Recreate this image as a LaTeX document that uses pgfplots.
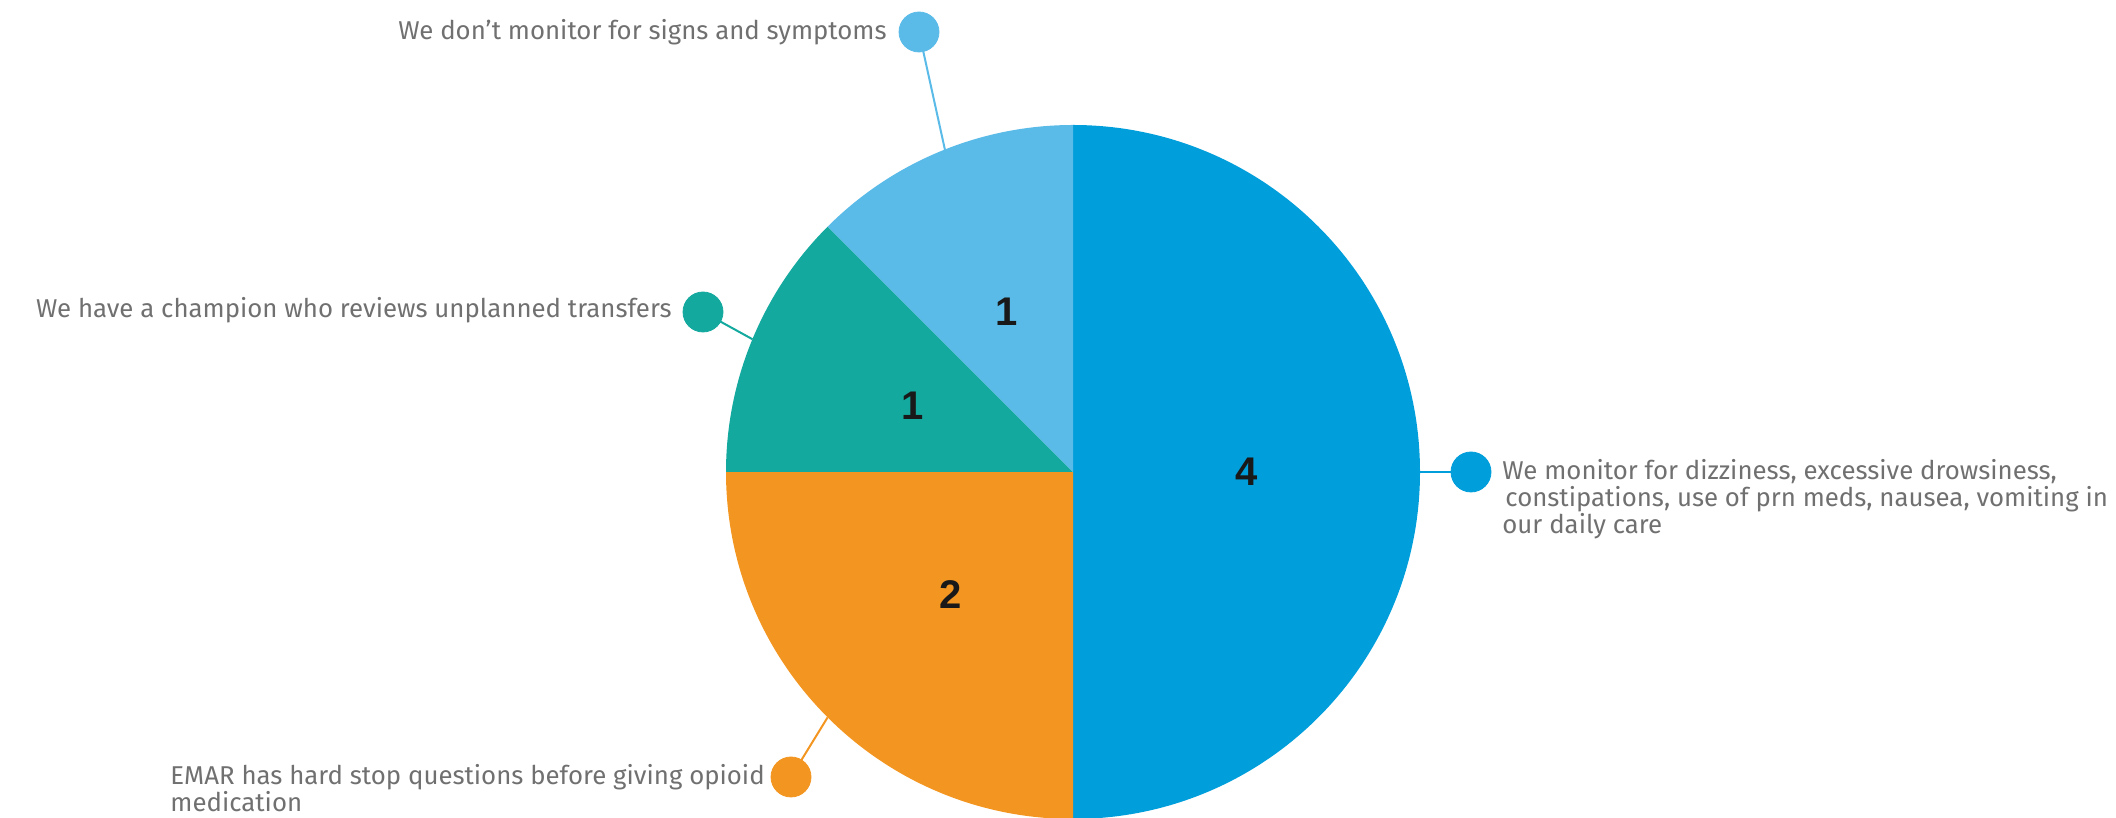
\documentclass[border=0pt]{standalone}
\usepackage{pgfplots}
\pgfplotsset{compat=1.18}
\usepackage{pgfplotstable}
\usepackage{fontspec}
\setmainfont{Fira Sans}
\newfontfamily\numfont{Liberation Sans}

\definecolor{cBlue}{RGB}{0,158,219}
\definecolor{cLight}{RGB}{91,187,232}
\definecolor{cTeal}{RGB}{20,169,158}
\definecolor{cOrange}{RGB}{243,150,33}
\definecolor{cText}{RGB}{112,112,112}

% slices, clockwise from 12 o'clock
\pgfplotstableread{
name value color
monitor 4 cBlue
emar 2 cOrange
champion 1 cTeal
dont 1 cLight
}\piedata

\tikzset{
  lbl/.style={font=\fontsize{12.9}{14}\selectfont, text=cText, inner sep=0pt},
  pienum/.style={font=\numfont\bfseries\fontsize{20}{20}\selectfont, text=black!90, inner sep=0pt}
}
\pgfplotsset{dot/.style={#1, only marks, mark=*, mark size=10pt, mark options={solid, draw=#1, fill=#1}}}

\begin{document}
\begin{tikzpicture}
\begin{axis}[
    width=1058pt, height=409pt, scale only axis,
    hide axis, clip=false,
    xmin=0, xmax=2116, ymin=0, ymax=818
]
    % centre and radius (pixel units; 1 unit = 0.5pt)
    \def\cx{1073}\def\cy{346}

    \pgfplotstablegetrowsof{\piedata}
    \pgfmathtruncatemacro\nrows{\pgfplotsretval-1}
    \gdef\total{0}
    \foreach \i in {0,...,\nrows}{%
        \pgfplotstablegetelem{\i}{value}\of\piedata
        \pgfmathsetmacro\t{\total+\pgfplotsretval}\xdef\total{\t}}

    \gdef\acc{90}
    \foreach \i in {0,...,\nrows}{%
        \pgfplotstablegetelem{\i}{value}\of\piedata
        \edef\val{\pgfplotsretval}
        \pgfplotstablegetelem{\i}{color}\of\piedata
        \edef\col{\pgfplotsretval}
        \pgfmathsetmacro\sweep{360*\val/\total}
        \pgfmathsetmacro\aend{\acc-\sweep}
        \pgfmathsetmacro\amid{\acc-\sweep/2}
        \edef\doit{%
            \noexpand\fill[\col] (axis cs:\cx,\cy) -- ++(\acc:173.5pt)
                arc[start angle=\acc, end angle=\aend, radius=173.5pt] -- cycle;
            \noexpand\path (axis cs:\cx,\cy) ++(\amid:86.75pt) node[pienum] {\val};}
        \doit
        \xdef\acc{\aend}}

    % callouts: leader, dot, text
    \addplot[cLight, line width=1pt] coordinates {(919,786) (945,668)};
    \addplot[dot=cLight] coordinates {(919,786)};
    \node[lbl, anchor=base east] at (axis cs:887,778) {We don't monitor for signs and symptoms};

    \addplot[cTeal, line width=1pt] coordinates {(703,506) (752.4,478.8)};
    \addplot[dot=cTeal] coordinates {(703,506)};
    \node[lbl, anchor=base east] at (axis cs:672,500) {We have a champion who reviews unplanned transfers};

    \addplot[cBlue, line width=1pt] coordinates {(1420,346) (1471,346)};
    \addplot[dot=cBlue] coordinates {(1471,346)};
    \node[lbl, anchor=base west] at (axis cs:1502,338) {We monitor for dizziness, excessive drowsiness,};
    \node[lbl, anchor=base west] at (axis cs:1505,311) {constipations, use of prn meds, nausea, vomiting in};
    \node[lbl, anchor=base west] at (axis cs:1502,284) {our daily care};

    \addplot[cOrange, line width=1pt] coordinates {(791,41) (827.6,100.6)};
    \addplot[dot=cOrange] coordinates {(791,41)};
    \node[lbl, anchor=base west] at (axis cs:170,33) {EMAR has hard stop questions before giving opioid};
    \node[lbl, anchor=base west] at (axis cs:170,6) {medication};
\end{axis}
\pgfresetboundingbox
\path[use as bounding box] (current axis.south west) rectangle (current axis.north east);
\end{tikzpicture}
\end{document}
